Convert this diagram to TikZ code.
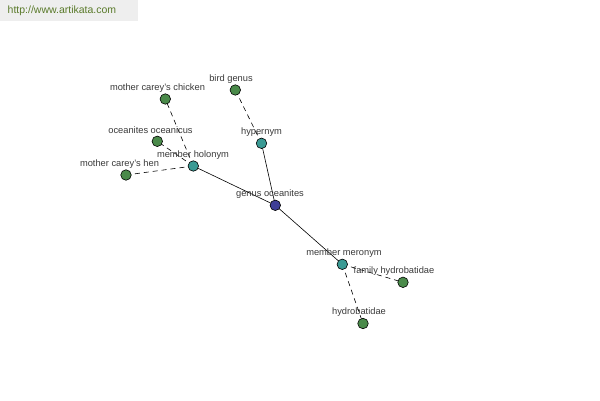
\documentclass[tikz,border=0pt]{standalone}
\usepackage{fontspec}
\setmainfont{Liberation Sans}
\definecolor{ngreen}{HTML}{4A8A4A}
\definecolor{nteal}{HTML}{3A9A94}
\definecolor{nblue}{HTML}{3E3E96}
\definecolor{lblgray}{HTML}{3A3A3A}
\definecolor{wmbg}{HTML}{EEEEEE}
\definecolor{wmtext}{HTML}{5A7A2A}
\tikzset{
  vtx/.style={circle,draw=black,line width=0.6pt,minimum size=10.5pt,inner sep=0pt},
  gnode/.style={vtx,fill=ngreen},
  tnode/.style={vtx,fill=nteal},
  bnode/.style={vtx,fill=nblue},
  lbl/.style={font=\fontsize{9.3}{11}\selectfont,text=lblgray,inner sep=0pt},
  rel/.style={line width=0.6pt,black},
  reldash/.style={line width=0.6pt,black,dash pattern=on 5pt off 4pt},
}
\begin{document}
\begin{tikzpicture}[x=1pt,y=-1pt]
\useasboundingbox (0,0) rectangle (600,400);
\fill[white] (0,0) rectangle (600,400);
\fill[wmbg] (0,0) rectangle (138,21);
\node[font=\fontsize{10.5}{12}\selectfont,text=wmtext,anchor=west,inner sep=0pt] (wm) at (7.5,11) {http://www.artikata.com};

\coordinate (pG) at (275.3,205.3);
\coordinate (pHy) at (261.5,143.3);
\coordinate (pBG) at (235.3,90);
\coordinate (pMH) at (193.3,166);
\coordinate (pCh) at (165.3,99);
\coordinate (pOO) at (157.3,141.3);
\coordinate (pHen) at (126,175);
\coordinate (pMM) at (342.3,264.3);
\coordinate (pFH) at (403,282.3);
\coordinate (pHyd) at (363,323.5);

\draw[rel] (pG) -- (pHy);
\draw[rel] (pG) -- (pMH);
\draw[rel] (pG) -- (pMM);
\draw[reldash] (pHy) -- (pBG);
\draw[reldash] (pMH) -- (pCh);
\draw[reldash] (pMH) -- (pOO);
\draw[reldash] (pMH) -- (pHen);
\draw[reldash] (pMM) -- (pFH);
\draw[reldash] (pMM) -- (pHyd);

\node[lbl] (lG) at (270,194.5) {genus oceanites};
\node[lbl] (lHy) at (261.5,132) {hypernym};
\node[lbl] (lBG) at (231,79) {bird genus};
\node[lbl] (lMH) at (193,155.5) {member holonym};
\node[lbl] (lCh) at (157.5,88) {mother carey's chicken};
\node[lbl] (lOO) at (150.5,130.5) {oceanites oceanicus};
\node[lbl] (lHen) at (119.5,164.5) {mother carey's hen};
\node[lbl] (lMM) at (344,253.5) {member meronym};
\node[lbl] (lFH) at (394,271.5) {family hydrobatidae};
\node[lbl] (lHyd) at (359,312.5) {hydrobatidae};

\node[bnode] (G) at (pG) {};
\node[tnode] (Hy) at (pHy) {};
\node[gnode] (BG) at (pBG) {};
\node[tnode] (MH) at (pMH) {};
\node[gnode] (Ch) at (pCh) {};
\node[gnode] (OO) at (pOO) {};
\node[gnode] (Hen) at (pHen) {};
\node[tnode] (MM) at (pMM) {};
\node[gnode] (FH) at (pFH) {};
\node[gnode] (Hyd) at (pHyd) {};
\end{tikzpicture}
\end{document}
